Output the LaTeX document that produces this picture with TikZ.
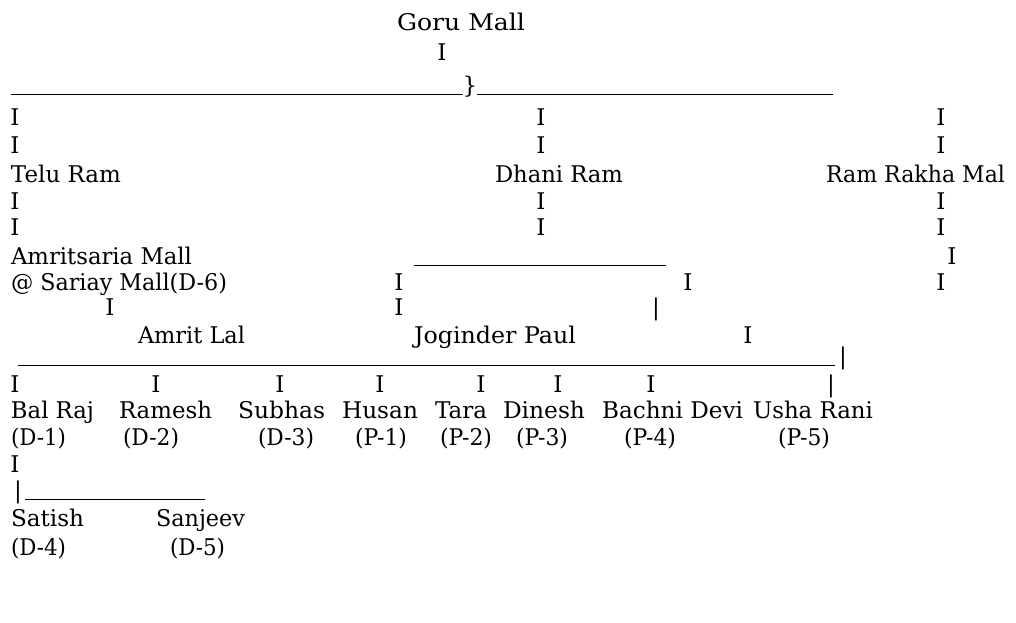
\documentclass[tikz,border=0pt]{standalone}
\usepackage{fontspec}
\setmainfont{DejaVu Serif}
\usepackage{graphicx}
\newcommand{\fw}[2]{\resizebox{#1pt}{\height}{#2}}
\begin{document}
\begin{tikzpicture}[x=1pt,y=-1pt,
  txt/.style={inner sep=0pt, outer sep=0pt, anchor=base west, font=\fontsize{23}{27}\selectfont},
  bar/.style={inner sep=0pt, outer sep=0pt, anchor=base, font=\fontsize{23}{27}\selectfont},
  rule/.style={line width=1pt}]
\useasboundingbox (0,0) rectangle (1016,622);
% row 0-2
\node[txt] (goru) at (397,30) {\fw{128}{Goru Mall}};
\node[bar] (r1a) at (442,60) {I};
\node[bar] (brace) at (470,93) {\}};
\coordinate (t1) at (11,94);
\coordinate (t2) at (833,94);
\draw[rule] (t1) -- (t1 -| brace.west);
\draw[rule] (t2 -| brace.east) -- (t2);
% rows 3-4
\node[bar] (r3a) at (15,125) {I};
\node[bar] (r3b) at (541,125) {I};
\node[bar] (r3c) at (941,125) {I};
\node[bar] (r4a) at (15,153) {I};
\node[bar] (r4b) at (541,153) {I};
\node[bar] (r4c) at (941,153) {I};
% row 5
\node[txt] (telu) at (11,182) {\fw{110}{Telu Ram}};
\node[txt] (dhani) at (495,182) {\fw{128}{Dhani Ram}};
\node[txt] (rakha) at (826,182) {\fw{179}{Ram Rakha Mal}};
% rows 6-7
\node[bar] (r6a) at (15,209) {I};
\node[bar] (r6b) at (541,209) {I};
\node[bar] (r6c) at (941,209) {I};
\node[bar] (r7a) at (15,235) {I};
\node[bar] (r7b) at (541,235) {I};
\node[bar] (r7c) at (941,235) {I};
% row 8
\node[txt] (amrits) at (11,264) {\fw{181}{Amritsaria Mall}};
\coordinate (m1) at (414,265);
\coordinate (m2) at (666,265);
\draw[rule] (m1) -- (m2);
\node[bar] (r8c) at (952,264) {I};
% row 9
\node[txt] (sariay) at (11,290) {\fw{216}{@ Sariay Mall(D-6)}};
\node[bar] (r9a) at (399,290) {I};
\node[bar] (r9b) at (688,290) {I};
\node[bar] (r9c) at (941,290) {I};
% row 10
\node[bar] (r10a) at (110,315) {I};
\node[bar] (r10b) at (399,315) {I};
\node[bar] (r10c) at (656,315) {|};
% row 11
\node[txt] (amrit) at (138,343) {\fw{107}{Amrit Lal}};
\node[txt] (jog) at (414,343) {\fw{162}{Joginder Paul}};
\node[bar] (r11c) at (748,343) {I};
% row 12
\coordinate (b1) at (18,365);
\coordinate (b2) at (835,365);
\draw[rule] (b1) -- (b2);
\node[bar] (r12) at (843,364) {|};
% row 13
\node[bar] (r13a) at (15,392) {I};
\node[bar] (r13b) at (156,392) {I};
\node[bar] (r13c) at (280,392) {I};
\node[bar] (r13d) at (380,392) {I};
\node[bar] (r13e) at (481,392) {I};
\node[bar] (r13f) at (558,392) {I};
\node[bar] (r13g) at (651,392) {I};
\node[bar] (r13h) at (831,392) {|};
% row 14
\node[txt] (balraj) at (11,418) {\fw{83}{Bal Raj}};
\node[txt] (ramesh) at (119,418) {\fw{93}{Ramesh}};
\node[txt] (subhas) at (238,418) {\fw{87}{Subhas}};
\node[txt] (husan) at (342,418) {\fw{76}{Husan}};
\node[txt] (tara) at (435,418) {\fw{52}{Tara}};
\node[txt] (dinesh) at (503,418) {\fw{82}{Dinesh}};
\node[txt] (bachni) at (602,418) {\fw{141}{Bachni Devi}};
\node[txt] (usha) at (753,418) {\fw{120}{Usha Rani}};
% row 15
\node[txt] (d1) at (11,445) {\fw{55}{(D-1)}};
\node[txt] (d2) at (123,445) {\fw{56}{(D-2)}};
\node[txt] (d3) at (258,445) {\fw{56}{(D-3)}};
\node[txt] (p1) at (355,445) {\fw{52}{(P-1)}};
\node[txt] (p2) at (440,445) {\fw{52}{(P-2)}};
\node[txt] (p3) at (516,445) {\fw{52}{(P-3)}};
\node[txt] (p4) at (624,445) {\fw{52}{(P-4)}};
\node[txt] (p5) at (778,445) {\fw{52}{(P-5)}};
% row 16-17
\node[bar] (r16) at (15,472) {I};
\node[bar] (r17) at (18,498) {|};
\coordinate (s1) at (25,499);
\coordinate (s2) at (205,499);
\draw[rule] (s1) -- (s2);
% row 18-19
\node[txt] (satish) at (11,526) {\fw{73}{Satish}};
\node[txt] (sanjeev) at (156,526) {\fw{89}{Sanjeev}};
\node[txt] (d4) at (11,555) {\fw{55}{(D-4)}};
\node[txt] (d5) at (170,555) {\fw{55}{(D-5)}};
\end{tikzpicture}
\end{document}
